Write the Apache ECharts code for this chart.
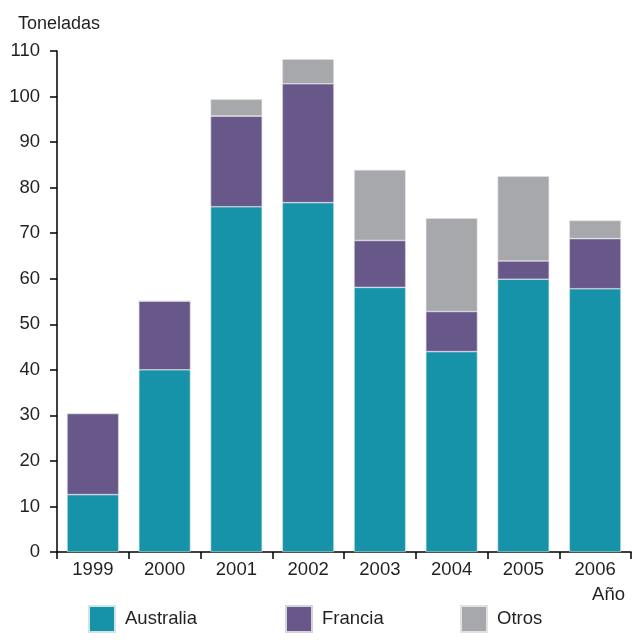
<!DOCTYPE html>
<html><head><meta charset="utf-8">
<script src="https://cdn.jsdelivr.net/npm/echarts@6/dist/echarts.min.js"></script>
<style>html,body{margin:0;padding:0;background:#fff}#c{width:632px;height:644px}</style>
</head><body><div id="c"></div>
<script>
var categories = ['1999','2000','2001','2002','2003','2004','2005','2006'];
var australia = [12.6, 40.0, 75.8, 76.7, 58.1, 44.0, 59.9, 57.8];
var francia = [17.8, 15.1, 19.9, 26.1, 10.3, 8.8, 4.0, 11.0];
var otros = [0, 0, 3.7, 5.4, 15.5, 20.5, 18.6, 4.0];
var yTicks = [0,10,20,30,40,50,60,70,80,90,100,110];

var FONT = "'Liberation Sans',Arial,sans-serif";
var TXT = '#231f20';
var chart = echarts.init(document.getElementById('c'));
function legendAt(name, left){
  return {data:[name], left:left, top:600, itemWidth:26, itemHeight:26, itemGap:0,
    icon:'rect', textStyle:{fontFamily:FONT, fontSize:18.5, color:TXT, padding:[0,0,0,5]}, selectedMode:false};
}
chart.setOption({
  animation:false,
  grid:{left:57, right:1, top:51, bottom:92, containLabel:false},
  title:[{text:'Toneladas', left:13, top:10, textStyle:{fontFamily:FONT, fontSize:18, fontWeight:'normal', color:TXT}},
         {text:'Año', right:2, top:580, textStyle:{fontFamily:FONT, fontSize:18.5, fontWeight:'normal', color:TXT}}],
  legend:[legendAt('Australia',83), legendAt('Francia',280), legendAt('Otros',455)],
  xAxis:{type:'category', data:categories, boundaryGap:true,
    axisLine:{lineStyle:{color:'#000', width:1.5}},
    axisTick:{show:true, alignWithLabel:false, length:7, lineStyle:{color:'#000', width:1.5}, inside:false},
    axisLabel:{fontFamily:FONT, fontSize:18.5, color:TXT, margin:8}},
  yAxis:{type:'value', min:yTicks[0], max:yTicks[yTicks.length-1], interval:10,
    axisLine:{show:true, lineStyle:{color:'#000', width:1.5}},
    axisTick:{show:true, length:7, lineStyle:{color:'#000', width:1.5}},
    splitLine:{show:false},
    axisLabel:{fontFamily:FONT, fontSize:18.5, color:TXT, margin:17}},
  series:[
    {name:'Australia', type:'bar', stack:'a', data:australia, barWidth:'72%',
      itemStyle:{color:'#1693a8', borderColor:'#cfe3e8', borderWidth:0.6}},
    {name:'Francia', type:'bar', stack:'a', data:francia,
      itemStyle:{color:'#68588a', borderColor:'#d6d2de', borderWidth:0.6}},
    {name:'Otros', type:'bar', stack:'a', data:otros,
      itemStyle:{color:'#a7a8ac', borderColor:'#e2e2e4', borderWidth:0.6}}
  ]
});
</script></body></html>
